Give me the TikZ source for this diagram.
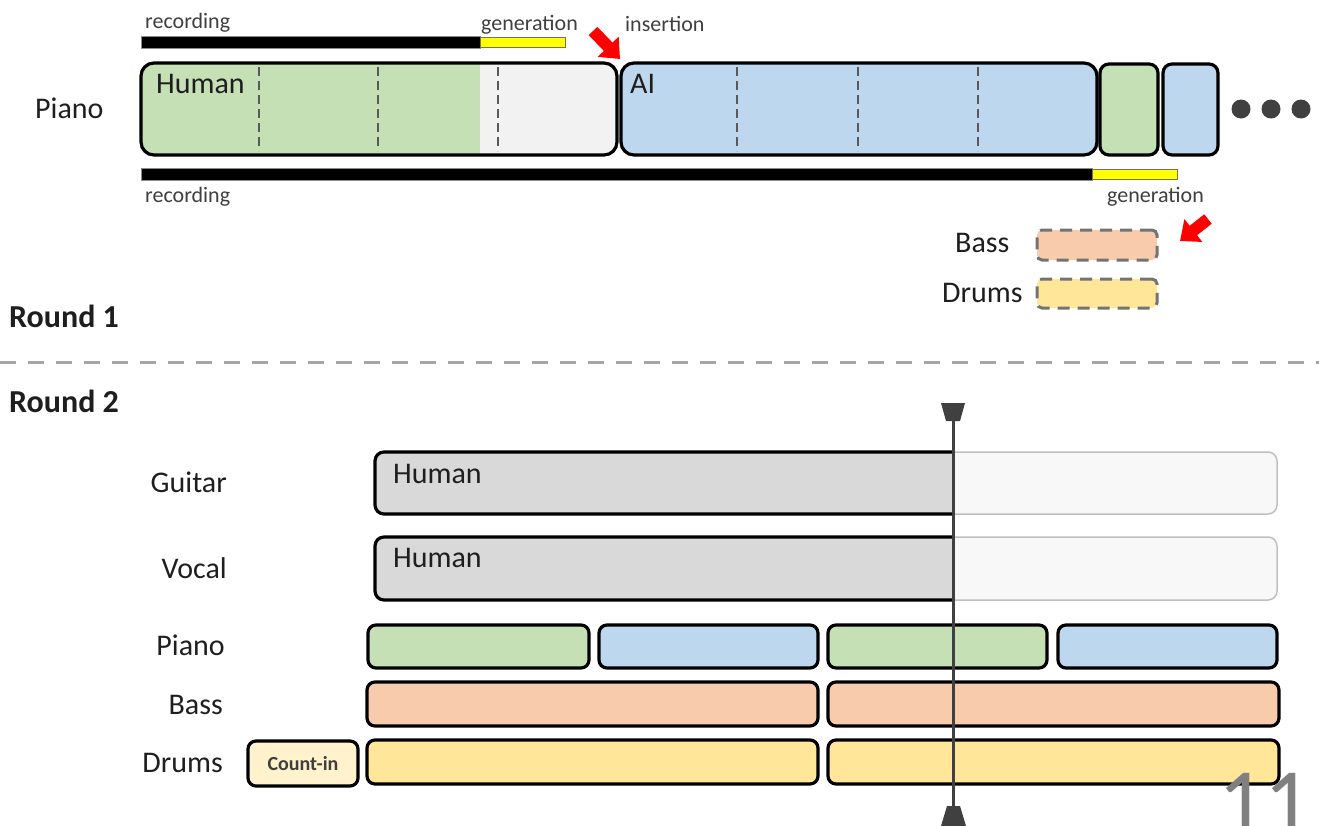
\documentclass[tikz,border=0pt]{standalone}
\usepackage{fontspec}
\setmainfont{Carlito}
\usetikzlibrary{arrows.meta}

\definecolor{pgreen}{HTML}{C5E0B4}
\definecolor{pblue}{HTML}{BDD7EE}
\definecolor{pgray}{HTML}{F2F2F2}
\definecolor{pbass}{HTML}{F8CBAD}
\definecolor{pdrum}{HTML}{FFE699}
\definecolor{pcount}{HTML}{FFF2CC}
\definecolor{hgray}{HTML}{D9D9D9}
\definecolor{ghost}{HTML}{F8F8F8}
\definecolor{ghostline}{HTML}{BFBFBF}
\definecolor{txt}{HTML}{1E1E1E}
\definecolor{smalltxt}{HTML}{3F3F3F}
\definecolor{dark}{HTML}{404040}
\definecolor{sep}{HTML}{A6A6A6}
\definecolor{gen}{HTML}{FFFF00}
\definecolor{pageno}{HTML}{808080}

% a box given by its top-left and bottom-right corners (pixels, y downwards)
\newcommand\seg[6]{\node[#6, minimum width={#4-#2}, minimum height={#5-#3}] (#1) at (#2,#3) {};}

\begin{document}
\begin{tikzpicture}[x=1pt,y=-1pt,
  base/.style={inner sep=0pt, outer sep=0pt, anchor=north west},
  blk/.style={base, draw=black, line width=3.2pt, rounded corners=#1},
  blk/.default=8pt,
  bar/.style={base, fill=black, draw=black!45, line width=0.8pt},
  genbar/.style={base, fill=gen, draw=black!60!yellow, line width=0.8pt},
  ghostbox/.style={base, fill=ghost, draw=ghostline, line width=1.5pt, rounded corners=9pt},
  todo/.style={base, draw=black!55, line width=3pt, dash pattern=on 12pt off 8pt, rounded corners=5pt},
  divider/.style={draw=black!65, line width=1.6pt, dash pattern=on 9pt off 5pt},
  lab/.style={inner sep=0pt, text=txt, font=\fontsize{30}{36}\selectfont},
  small/.style={inner sep=0pt, text=smalltxt, font=\fontsize{22}{26}\selectfont},
  round/.style={inner sep=0pt, text=txt, font=\bfseries\fontsize{32}{38}\selectfont},
  hint/.style={draw=red, line width=12pt, -{Triangle[length=17pt,width=28pt]}},
  cutline/.style={draw=dark, line width=3pt},
  dot/.style={circle, fill=dark, inner sep=0pt, minimum size=19pt}
]
\useasboundingbox (0,0) rectangle (1319,825);

% ---------------- Round 1 ----------------
\node[lab, anchor=base west] (pianoTop) at (35,118) {Piano};

% recording / generation bars above
\seg{recTop}{141}{36}{480}{48}{bar}
\seg{genTop}{480}{37}{565}{47}{genbar}
\node[small, anchor=base west] (recTopL) at (145,28) {recording};
\node[small, anchor=base west] (genTopL) at (481,30) {generation};
\node[small, anchor=base west] (insL) at (625,31) {insertion};

% piano segments
\seg{human}{141}{63}{617}{155}{blk=13pt, fill=pgray,
  path picture={\fill[pgreen, sharp corners] (path picture bounding box.north west) rectangle ([xshift=339pt]path picture bounding box.south west);}}
\seg{ai}{621}{63}{1097}{155}{blk=13pt, fill=pblue}
\seg{nextH}{1100}{64}{1158}{155}{blk=9pt, fill=pgreen}
\seg{nextA}{1163}{64}{1218}{155}{blk=9pt, fill=pblue}
\foreach \x in {259,378,498} \draw[divider] (\x,67) -- (\x,151);
\foreach \x in {737,858,978} \draw[divider] (\x,67) -- (\x,151);
\node[lab, anchor=base west] (humanL) at (156,93) {Human};
\node[lab, anchor=base west] (aiL) at (630,93) {AI};

\node[dot] (d1) at (1241,109) {};
\node[dot] (d2) at (1271,109) {};
\node[dot] (d3) at (1301,109) {};

% recording / generation bars below
\seg{recBot}{141}{168}{1092}{180}{bar}
\seg{genBot}{1092}{169}{1177}{179}{genbar}
\node[small, anchor=base west] (recBotL) at (145,202) {recording};
\node[small, anchor=base west] (genBotL) at (1107,202) {generation};

% insertion hints
\coordinate (h1s) at (593,31);
\coordinate (h1e) at (620,59);
\draw[hint] (h1s) -- (h1e);
\coordinate (h2s) at (1208,219);
\coordinate (h2e) at (1180,241);
\draw[hint] (h2s) -- (h2e);

% parts still to be generated
\seg{bassTodo}{1037}{230}{1157}{260}{todo, fill=pbass}
\seg{drumTodo}{1037}{279}{1157}{308}{todo, fill=pdrum}
\node[lab, anchor=base west] (bassTop) at (955,252) {Bass};
\node[lab, anchor=base west] (drumTop) at (942,302) {Drums};

\node[round, anchor=base west] (r1) at (9,327) {Round 1};
\coordinate (sepL) at (0,362);
\coordinate (sepR) at (1319,362);
\draw[sep, line width=3pt, dash pattern=on 16pt off 12pt] (sepL) -- (sepR);
\node[round, anchor=base west] (r2) at (9,412) {Round 2};

% ---------------- Round 2 ----------------
\node[lab, anchor=base east] (gtrL) at (227,492) {Guitar};
\node[lab, anchor=base east] (vocL) at (227,578) {Vocal};
\node[lab, anchor=base east] (pnoL) at (225,655) {Piano};
\node[lab, anchor=base east] (basL) at (223,714) {Bass};
\node[lab, anchor=base east] (drmL) at (223,772) {Drums};

% guitar and vocal: recorded part up to the cursor, rest still empty
\seg{gtrAll}{375}{452}{1277}{514}{ghostbox}
\filldraw[fill=hgray, draw=black, line width=3.2pt, rounded corners=9pt]
  (953,452) -- (375,452) -- (375,514) -- (953,514);
\seg{vocAll}{375}{537}{1277}{600}{ghostbox}
\filldraw[fill=hgray, draw=black, line width=3.2pt, rounded corners=9pt]
  (953,537) -- (375,537) -- (375,600) -- (953,600);
\node[lab, anchor=base west] (gtrH) at (393,483) {Human};
\node[lab, anchor=base west] (vocH) at (393,567) {Human};

% piano alternates human / AI
\seg{p1}{368}{625}{589}{668}{blk, fill=pgreen}
\seg{p2}{599}{625}{818}{668}{blk, fill=pblue}
\seg{p3}{828}{625}{1047}{668}{blk, fill=pgreen}
\seg{p4}{1058}{625}{1277}{668}{blk, fill=pblue}

% bass and drums
\seg{b1}{367}{682}{818}{726}{blk, fill=pbass}
\seg{b2}{828}{682}{1279}{726}{blk, fill=pbass}
\seg{cnt}{248}{741}{358}{786}{blk, fill=pcount}
\node[inner sep=0pt, text=smalltxt, font=\bfseries\fontsize{20}{24}\selectfont] (cntL) at (cnt.center) {Count-in};
\seg{r1d}{367}{740}{818}{784}{blk, fill=pdrum}
\seg{r2d}{828}{740}{1279}{784}{blk, fill=pdrum}

% playback cursor
\coordinate (cutT) at (953,404);
\coordinate (cutB) at (953,826);
\draw[cutline] (cutT) -- (cutB);
\fill[dark] (941,403) -- (965,403) -- (960,421) -- (946,421) -- cycle;
\fill[dark] (947,806) -- (960,806) -- (966,826) -- (941,826) -- cycle;

% slide number
\node[inner sep=0pt, anchor=base west, text=pageno, font=\fontsize{92}{100}\selectfont] (pg) at (1218,832) {11};
\end{tikzpicture}
\end{document}
